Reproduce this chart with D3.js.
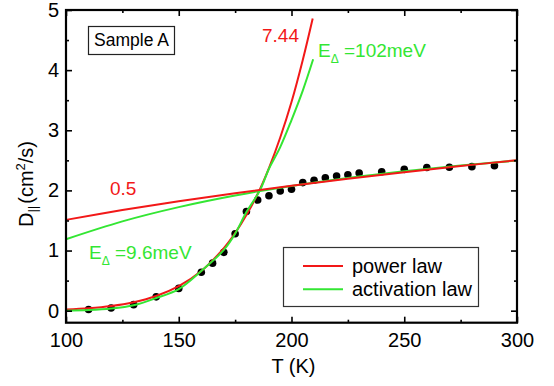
<!DOCTYPE html>
<html>
<head>
<meta charset="utf-8">
<script src="https://cdn.jsdelivr.net/npm/d3@7"></script>
<style>
  body { margin: 0; background: #fff; }
  text { font-family: "Liberation Sans", Arial, sans-serif; }
</style>
</head>
<body>
<div id="grafico"></div>
<script>
// Tamaño de la figura
const w = 554;
const h = 386;
const izq = 66, der = 517, arriba = 10, abajo = 322.7;

// Ticks de los ejes
const ticksX = [100, 150, 200, 250, 300];
const ticksXmenor = [125, 175, 225, 275];
const ticksY = [0, 1, 2, 3, 4, 5];
const ticksYmenor = [0.5, 1.5, 2.5, 3.5, 4.5];

// Datos medidos (puntos negros)
const tempDatos = [110, 120, 130, 140, 150, 160, 165, 170, 175, 180, 185, 190, 195,
                   200, 205, 210, 215, 220, 225, 230, 240, 250, 260, 270, 280, 290];
const difDatos = [0.02, 0.045, 0.10, 0.23, 0.37, 0.64, 0.79, 0.97, 1.28, 1.65, 1.84, 1.91, 1.99,
                  2.02, 2.13, 2.17, 2.21, 2.24, 2.26, 2.29, 2.31, 2.35, 2.38, 2.385, 2.395, 2.41];

// Ajuste ley de potencia, baja T (exponente 7.44)
const tempPotBaja = [100, 110, 120, 130, 140, 150, 160, 170, 175, 180, 186, 190, 195, 200, 205, 209.4];
const difPotBaja = [0.02, 0.041, 0.078, 0.141, 0.244, 0.408, 0.66, 1.04, 1.29, 1.59, 2.02, 2.37, 2.88, 3.47, 4.17, 4.86];

// Ajuste ley de activacion, baja T (102 meV)
const tempActBaja = [100, 110, 120, 130, 140, 150, 160, 170, 175, 180, 186, 190, 195, 200, 205, 209.6];
const difActBaja = [0.0, 0.01, 0.035, 0.09, 0.21, 0.36, 0.66, 1.01, 1.28, 1.64, 2.0, 2.36, 2.72, 3.17, 3.66, 4.18];

// Ajustes de alta T (exponente 0.5 y 9.6 meV)
const tempAlta = [100, 125, 150, 175, 200, 225, 250, 275, 300];
const difPotAlta = [1.51, 1.673, 1.82, 1.953, 2.077, 2.192, 2.302, 2.405, 2.503];
const difActAlta = [1.188, 1.485, 1.722, 1.915, 2.074, 2.207, 2.319, 2.414, 2.497];

const rojo = '#f21818';
const verde = '#33e633';

// Escalas
const xScale = d3.scaleLinear().domain([100, 300]).range([izq, der]);
const yScale = d3.scaleLinear().domain([-0.2, 5]).range([abajo, arriba]);

const svg = d3.select('#grafico')
  .append('svg')
  .attr('width', w)
  .attr('height', h);

svg.append('rect').attr('width', w).attr('height', h).attr('fill', '#fff');

// Puntos de datos
svg.selectAll('circle.punto')
  .data(tempDatos.map((t, i) => [t, difDatos[i]]))
  .enter()
  .append('circle')
  .attr('class', 'punto')
  .attr('cx', (d) => xScale(d[0]))
  .attr('cy', (d) => yScale(d[1]))
  .attr('r', 3.8)
  .attr('fill', '#000');

// Curvas de ajuste
const linea = d3.line()
  .x((d) => xScale(d[0]))
  .y((d) => yScale(d[1]))
  .curve(d3.curveCatmullRom);

function curva(ts, ds, color) {
  svg.append('path')
    .datum(ts.map((t, i) => [t, ds[i]]))
    .attr('fill', 'none')
    .attr('stroke', color)
    .attr('stroke-width', 2)
    .attr('d', linea);
}
curva(tempPotBaja, difPotBaja, rojo);
curva(tempActBaja, difActBaja, verde);
curva(tempAlta, difActAlta, verde);
curva(tempAlta, difPotAlta, rojo);

// Ejes con ticks hacia adentro
function eje(axis, valores, largo, transform, conTexto, padding) {
  const g = svg.append('g')
    .attr('transform', transform)
    .style('font-size', '20px')
    .style('font-family', '"Liberation Sans", Arial, sans-serif')
    .call(axis.tickValues(valores).tickSizeInner(-largo).tickSizeOuter(0)
      .tickPadding(padding || 0)
      .tickFormat(conTexto ? d3.format('') : ''));
  g.select('.domain').remove();
  g.selectAll('line').attr('stroke', '#000').attr('stroke-width', 1.6);
  g.selectAll('text').attr('fill', '#000');
}
eje(d3.axisBottom(xScale), ticksX, 6, 'translate(0,' + abajo + ')', true, 10);
eje(d3.axisBottom(xScale), ticksXmenor, 3, 'translate(0,' + abajo + ')', false);
eje(d3.axisTop(xScale), ticksX, 6, 'translate(0,' + arriba + ')', false);
eje(d3.axisTop(xScale), ticksXmenor, 3, 'translate(0,' + arriba + ')', false);
eje(d3.axisLeft(yScale), ticksY, 6, 'translate(' + izq + ',0)', true, 7);
eje(d3.axisLeft(yScale), ticksYmenor, 3, 'translate(' + izq + ',0)', false);
eje(d3.axisRight(yScale), ticksY, 6, 'translate(' + der + ',0)', false);
eje(d3.axisRight(yScale), ticksYmenor, 3, 'translate(' + der + ',0)', false);

// Marco
svg.append('rect')
  .attr('x', izq).attr('y', arriba)
  .attr('width', der - izq).attr('height', abajo - arriba)
  .attr('fill', 'none').attr('stroke', '#000').attr('stroke-width', 2.2);

// Titulos de los ejes
svg.append('text')
  .attr('x', (izq + der) / 2 + 2)
  .attr('y', 373)
  .attr('text-anchor', 'middle')
  .style('font-size', '20px')
  .text('T (K)');

const tituloY = svg.append('text')
  .attr('text-anchor', 'middle')
  .attr('transform', 'translate(33,184)rotate(-90)')
  .style('font-size', '20px');
tituloY.append('tspan').text('D');
tituloY.append('tspan').attr('dy', 4).style('font-size', '13px').text('||');
tituloY.append('tspan').attr('dy', -4).attr('dx', 2).text('(cm');
tituloY.append('tspan').attr('dy', -8).style('font-size', '13px').text('2');
tituloY.append('tspan').attr('dy', 8).text('/s)');

// Recuadro "Sample A"
svg.append('rect')
  .attr('x', 88.5).attr('y', 26.5).attr('width', 86).attr('height', 28)
  .attr('fill', 'none').attr('stroke', '#222').attr('stroke-width', 1.2);
svg.append('text')
  .attr('x', 131.5).attr('y', 46)
  .attr('text-anchor', 'middle')
  .style('font-size', '17.5px')
  .text('Sample A');

// Etiquetas de las curvas
svg.append('text').attr('x', 262).attr('y', 42).attr('fill', rojo)
  .style('font-size', '19px').text('7.44');
svg.append('text').attr('x', 110).attr('y', 195).attr('fill', rojo)
  .style('font-size', '19px').text('0.5');

function etiquetaE(x, y, valor) {
  const t = svg.append('text').attr('x', x).attr('y', y).attr('fill', verde)
    .style('font-size', '19px');
  t.append('tspan').text('E');
  t.append('tspan').attr('dy', 6).style('font-size', '12px').text('Δ');
  t.append('tspan').attr('dy', -6).text(' =' + valor);
}
etiquetaE(318, 57, '102meV');
etiquetaE(89, 259, '9.6meV');

// Leyenda
svg.append('rect')
  .attr('x', 283.5).attr('y', 247.5).attr('width', 195).attr('height', 59)
  .attr('fill', '#fff').attr('stroke', '#333').attr('stroke-width', 1.2);
const leyenda = [['power law', rojo], ['activation law', verde]];
leyenda.forEach(function (e, i) {
  svg.append('line')
    .attr('x1', 303).attr('x2', 343)
    .attr('y1', 266 + i * 23.3).attr('y2', 266 + i * 23.3)
    .attr('stroke', e[1]).attr('stroke-width', 2);
  svg.append('text')
    .attr('x', 352).attr('y', 273 + i * 23.3)
    .style('font-size', '20px')
    .text(e[0]);
});
</script>
</body>
</html>
